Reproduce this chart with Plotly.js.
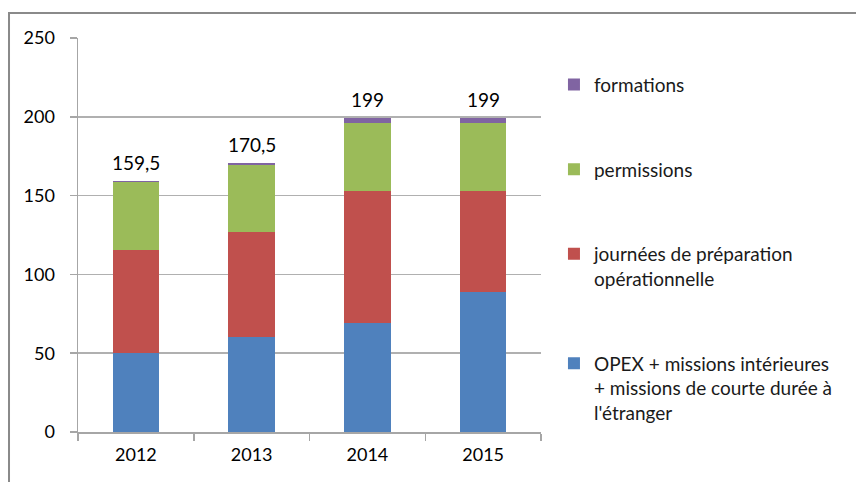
<!DOCTYPE html>
<html>
<head>
<meta charset="utf-8">
<script src="https://cdn.plot.ly/plotly-3.0.1.min.js"></script>
<style>html,body{margin:0;padding:0;background:#fff;}#chart{width:856px;height:482px;}</style>
</head>
<body>
<div id="chart"></div>
<script>
const years = ['2012', '2013', '2014', '2015'];
const opex = [50, 60, 69, 89];
const preparation = [65.5, 67, 84, 64];
const permissions = [43, 42.5, 43, 43];
const formations = [1, 1, 3, 3];
const totals = [159.5, 170.5, 199, 199];
const totalLabels = ['159,5', '170,5', '199', '199'];

const names = [
  'OPEX + missions intérieures<br>+ missions de courte durée à<br>l\'étranger',
  'journées de préparation<br>opérationnelle',
  'permissions',
  'formations'
];
const colors = ['#4F81BD', '#C0504D', '#9BBB59', '#8064A2'];
const ranks = [4, 3, 2, 1];
const series = [opex, preparation, permissions, formations];

const traces = series.map((vals, i) => ({
  type: 'bar',
  x: years,
  y: vals,
  name: names[i],
  legendgroup: 'g' + i,
  legendrank: ranks[i],
  marker: {color: colors[i], line: {width: 0}},
  hoverinfo: 'y+name'
}));

// category index of each year on the category axis
const annotations = years.map((yr, i) => ({
  x: years.indexOf(yr),
  y: totals[i],
  xref: 'x',
  yref: 'y',
  text: totalLabels[i],
  showarrow: false,
  yanchor: 'bottom',
  yshift: 5,
  font: {family: 'Lato, "Open Sans", sans-serif', size: 19, color: '#000'}
}));

const tickFont = {family: 'Lato, "Open Sans", sans-serif', size: 18, color: '#000'};

const layout = {
  width: 856,
  height: 482,
  margin: {l: 78, r: 315, t: 38, b: 50},
  paper_bgcolor: '#fff',
  plot_bgcolor: '#fff',
  barmode: 'stack',
  bargap: 0.6,
  font: {family: 'Lato, "Open Sans", sans-serif', color: '#000'},
  xaxis: {
    type: 'category',
    categoryarray: years,
    showgrid: false,
    showline: true,
    linecolor: '#a6a6a6',
    linewidth: 1.5,
    ticks: 'outside',
    tickson: 'boundaries',
    ticklen: 7,
    tickcolor: '#a6a6a6',
    tickwidth: 1.5,
    ticklabelstandoff: 6,
    tickfont: tickFont,
    fixedrange: true
  },
  yaxis: {
    range: [0, 250],
    dtick: 50,
    showgrid: true,
    gridcolor: '#b0b0b0',
    gridwidth: 1.5,
    zeroline: false,
    showline: true,
    linecolor: '#a6a6a6',
    linewidth: 1.5,
    ticks: 'outside',
    ticklen: 7,
    tickcolor: '#a6a6a6',
    tickwidth: 1.5,
    ticklabelstandoff: 11,
    tickfont: tickFont,
    fixedrange: true
  },
  legend: {
    x: 1.028,
    xanchor: 'left',
    y: 0.93,
    yanchor: 'top',
    traceorder: 'grouped',
    tracegroupgap: 57,
    valign: 'top',
    font: {family: 'Lato, "Open Sans", sans-serif', size: 19, color: '#1a1a1a'},
    bgcolor: 'rgba(0,0,0,0)'
  },
  annotations: annotations,
  shapes: [{
    type: 'rect',
    xref: 'paper', yref: 'paper',
    x0: -0.149, x1: 1.8,
    y0: -0.5, y1: 1.0635,
    line: {color: '#8a8a8a', width: 2},
    fillcolor: 'rgba(0,0,0,0)',
    layer: 'below'
  }],
  showlegend: true
};

Plotly.newPlot('chart', traces, layout, {displayModeBar: false, staticPlot: true});
</script>
</body>
</html>
